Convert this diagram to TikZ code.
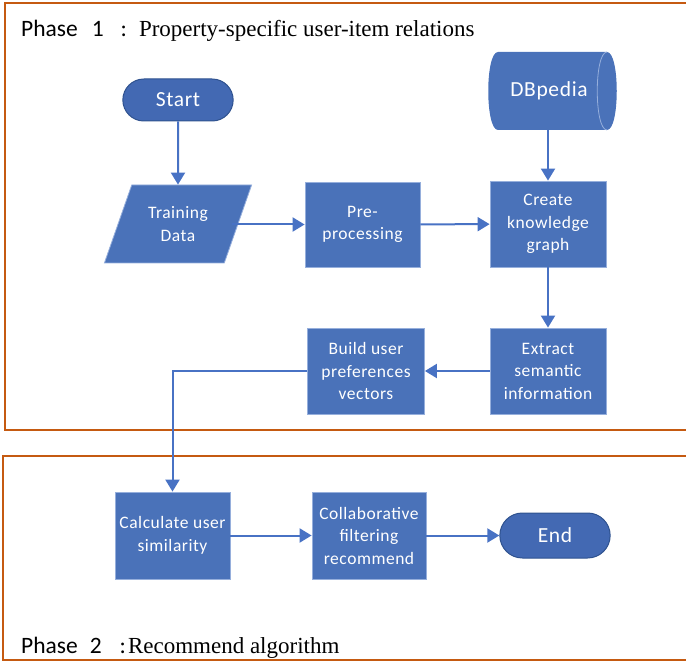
\documentclass[tikz,border=0pt]{standalone}
\usepackage{fontspec}
\setsansfont{Carlito}
\setmainfont{Liberation Serif}
\newfontfamily\calib{Carlito}
\newfontfamily\calibsp{Carlito}[LetterSpace=3]
\usetikzlibrary{arrows.meta,shapes.geometric,shapes.misc}
\definecolor{boxblue}{RGB}{74,114,185}
\definecolor{termblue}{RGB}{67,105,179}
\definecolor{termedge}{RGB}{47,82,143}
\definecolor{edgelight}{RGB}{150,175,220}
\definecolor{arrowblue}{RGB}{72,114,196}
\definecolor{phaseorange}{RGB}{197,90,17}
\begin{document}
\begin{tikzpicture}[x=1pt,y=-1pt,
  procbox/.style={rectangle, fill=boxblue, draw=edgelight, line width=0.8pt,
    minimum width=116, minimum height=86, align=center, text=white,
    font=\calibsp\fontsize{17.5}{22.5}\selectfont, inner sep=1pt},
  termbox/.style={rounded rectangle, fill=termblue, draw=termedge, line width=1pt,
    minimum width=117, minimum height=42, text=white,
    font=\calibsp\fontsize{21.5}{26}\selectfont},
  databox/.style={trapezium, trapezium left angle=63.5, trapezium right angle=116.5,
    fill=boxblue, draw=edgelight, line width=0.8pt, minimum width=148, minimum height=78,
    trapezium stretches=true, align=center, text=white, inner sep=1pt,
    font=\calibsp\fontsize{17.5}{22.5}\selectfont},
  flow/.style={draw=arrowblue, line width=2pt, -{Triangle[length=12pt,width=14pt]}},
  phase/.style={draw=phaseorange, line width=1.6pt},
  phaselabel/.style={anchor=base west, inner sep=0pt, text=black}
]
\useasboundingbox (0,0) rectangle (686,663);
% phase frames
\draw[phase] (700,3) -- (5,3) -- (5,430) -- (700,430);
\draw[phase] (700,456) -- (3,456) -- (3,660) -- (700,660);
\node[phaselabel] (p1) at (21,37) {\calib\fontsize{23.5}{26}\selectfont Phase\hspace{14pt}1\hspace{17pt}:\hspace{12pt}\rmfamily\fontsize{23}{26}\selectfont Property-specific user-item relations};
\node[phaselabel] (p2) at (21,653) {\calib\fontsize{23.5}{26}\selectfont Phase\hspace{12pt}2\hspace{18pt}:\hspace{2pt}\rmfamily\fontsize{23}{26}\selectfont Recommend algorithm};

% nodes
\node[termbox] (start) at (178,100) {Start};
\node[databox] (train) at (178,224) {Training\\Data};
\node[procbox, minimum width=115, minimum height=85] (pre) at (362.5,224.5) {Pre-\\processing};
\node[procbox] (kg) at (548,224) {Create\\knowledge\\graph};
% DBpedia cylinder
\fill[boxblue] (498,52) -- (607,52) .. controls (620,52) and (620,130) .. (607,130)
  -- (498,130) .. controls (485,130) and (485,52) .. (498,52) -- cycle;
\draw[edgelight, line width=0.8pt] (607,52) .. controls (594,52) and (594,130) .. (607,130);
\node[minimum width=120, minimum height=78, text=white, font=\calibsp\fontsize{21.5}{26}\selectfont] (db) at (549,91) {DBpedia};
\node[procbox] (ext) at (548,371) {Extract\\semantic\\information};
\node[procbox, minimum width=117] (build) at (366,371) {Build user\\preferences\\vectors};
\node[procbox, minimum width=115, minimum height=87] (calc) at (172.5,535.5) {Calculate user\\similarity};
\node[procbox, minimum width=114, minimum height=87] (collab) at (369,535.5) {Collaborative\\filtering\\recommend};
\node[termbox, minimum height=45] (end) at (555,535.5) {End};

% connectors
\draw[flow] (start) -- (train);
\draw[flow] (train.east |- pre.west) ++(-6,0) -- (pre.west);
\draw[flow] (pre) -- (kg);
\draw[flow] (kg.north |- 0,130) -- (kg.north);
\draw[flow] (kg) -- (ext);
\draw[flow] (ext) -- (build);
\draw[flow] (build.west) -| (calc.north);
\draw[flow] (calc) -- (collab);
\draw[flow] (collab) -- (end);
\end{tikzpicture}
\end{document}
